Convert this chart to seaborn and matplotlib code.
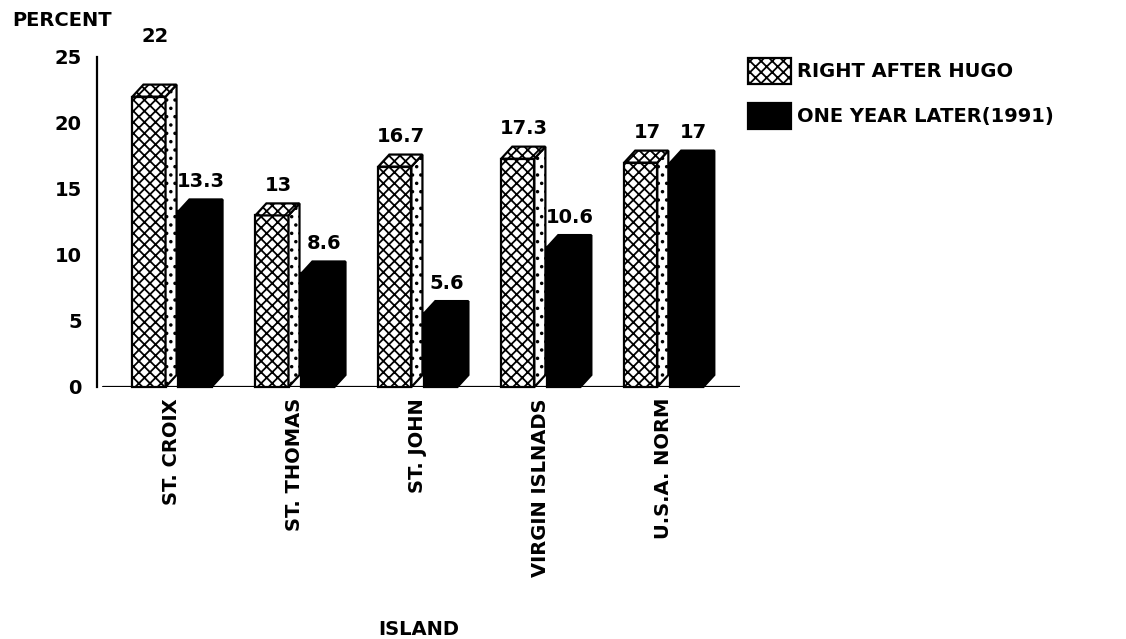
import matplotlib
matplotlib.use("Agg")
import matplotlib.pyplot as plt
from matplotlib.patches import Polygon, Patch
import pandas as pd
import seaborn as sns

# ---- data -------------------------------------------------------------
islands = ["ST. CROIX", "ST. THOMAS", "ST. JOHN", "VIRGIN ISLNADS", "U.S.A. NORM"]
series = ["RIGHT AFTER HUGO", "ONE YEAR LATER(1991)"]
right_after_hugo = [22, 13, 16.7, 17.3, 17]
one_year_later = [13.3, 8.6, 5.6, 10.6, 17]
y_ticks = [0, 5, 10, 15, 20, 25]

df = pd.DataFrame({
    "island": islands * 2,
    "period": [series[0]] * len(islands) + [series[1]] * len(islands),
    "percent": right_after_hugo + one_year_later,
})

# ---- style ------------------------------------------------------------
sns.set_theme(style="white")
plt.rcParams["font.family"] = ["DejaVu Sans"]
plt.rcParams["font.weight"] = "bold"
for key in ("text.color", "axes.labelcolor", "xtick.color", "ytick.color", "axes.edgecolor"):
    plt.rcParams[key] = "black"
plt.rcParams["hatch.linewidth"] = 1.3
plt.rcParams["hatch.color"] = "black"

FIG_W, FIG_H = 1126, 639
fig = plt.figure(figsize=(FIG_W / 100, FIG_H / 100), dpi=100)
fig.patch.set_facecolor("white")
ax = fig.add_axes([97 / FIG_W, 1 - 387 / FIG_H, 643 / FIG_W, 330 / FIG_H])
ax.set_facecolor("white")

LW = 1.6
FS = 14
CROSS = "xxx"

sns.barplot(
    data=df, x="island", y="percent", hue="period",
    order=islands, hue_order=series,
    palette={series[0]: "white", series[1]: "black"}, saturation=1,
    width=0.748, gap=0.28, edgecolor="black", linewidth=LW,
    errorbar=None, legend=False, ax=ax,
)
ax.set_xlim(-0.61, 4.62)
ax.set_ylim(0, 25)

# depth of the pseudo-3D boxes, given in pixels and converted to data units
inv = ax.transData.inverted()
(ox, oy), (px, py) = inv.transform([(0, 0), (11, 12)])
dx, dy = px - ox, py - oy

raised_labels = {(0, 0): 22}  # extra lift (points) for a crowded label

for k, cont in enumerate(ax.containers):
    for i, bar in enumerate(cont.patches):
        x0, w, h = bar.get_x(), bar.get_width(), bar.get_height()
        x1 = x0 + w
        side = Polygon([(x1, 0), (x1 + dx, dy), (x1 + dx, h + dy), (x1, h)], closed=True)
        top = Polygon([(x0, h), (x0 + dx, h + dy), (x1 + dx, h + dy), (x1, h)], closed=True)
        if k == 0:
            bar.set_hatch(CROSS)
            side.set_facecolor("white")
            side.set_hatch("..")
            top.set_facecolor("white")
            top.set_hatch(CROSS)
        else:
            side.set_facecolor("black")
            top.set_facecolor("black")
        for face in (side, top):
            face.set_edgecolor("black")
            face.set_linewidth(LW)
            face.set_clip_on(False)
            face.set_zorder(bar.get_zorder())
            ax.add_patch(face)
        bar.set_clip_on(False)
        lift = raised_labels.get((k, i), 0)
        ax.annotate(f"{h:g}", xy=(x0 + w / 2, h), xytext=(4.5, 21.5 + lift),
                    textcoords="offset points", ha="center", va="center",
                    fontsize=FS, fontweight="bold", annotation_clip=False)

# baseline and axes
ax.axhline(0, xmin=6 / 643, xmax=1, color="black", lw=LW, zorder=0.5)
for side_name in ("top", "right", "bottom"):
    ax.spines[side_name].set_visible(False)
ax.spines["left"].set_linewidth(LW)
ax.spines["left"].set_color("black")

ax.set_yticks(y_ticks)
ax.set_yticklabels([str(t) for t in y_ticks])
ax.tick_params(axis="y", which="major", length=0, pad=11, labelsize=FS)
ax.set_yticks([25], minor=True)
ax.tick_params(axis="y", which="minor", left=True, direction="in", length=6, width=LW)

ax.tick_params(axis="x", length=0, pad=8, labelsize=FS, labelrotation=90)
for lbl in ax.get_xticklabels() + ax.get_yticklabels():
    lbl.set_fontweight("bold")

ax.set_ylabel("")
ax.set_xlabel("ISLAND", fontsize=FS, fontweight="bold")
ax.xaxis.set_label_coords(0.5, -0.706)

fig.text(12 / FIG_W, 1 - 20 / FIG_H, "PERCENT", ha="left", va="center",
         fontsize=FS, fontweight="bold")

handles = [
    Patch(facecolor="white", edgecolor="black", hatch=CROSS, linewidth=LW),
    Patch(facecolor="black", edgecolor="black", linewidth=LW),
]
fig.legend(handles, series, loc="upper left",
           bbox_to_anchor=(748 / FIG_W, 1 - 58 / FIG_H),
           frameon=False, prop={"size": FS, "weight": "bold"},
           handlelength=2.2, handleheight=1.7, handletextpad=0.3,
           labelspacing=0.95, borderpad=0, borderaxespad=0)

fig.savefig("out.png", dpi=100, facecolor="white")
